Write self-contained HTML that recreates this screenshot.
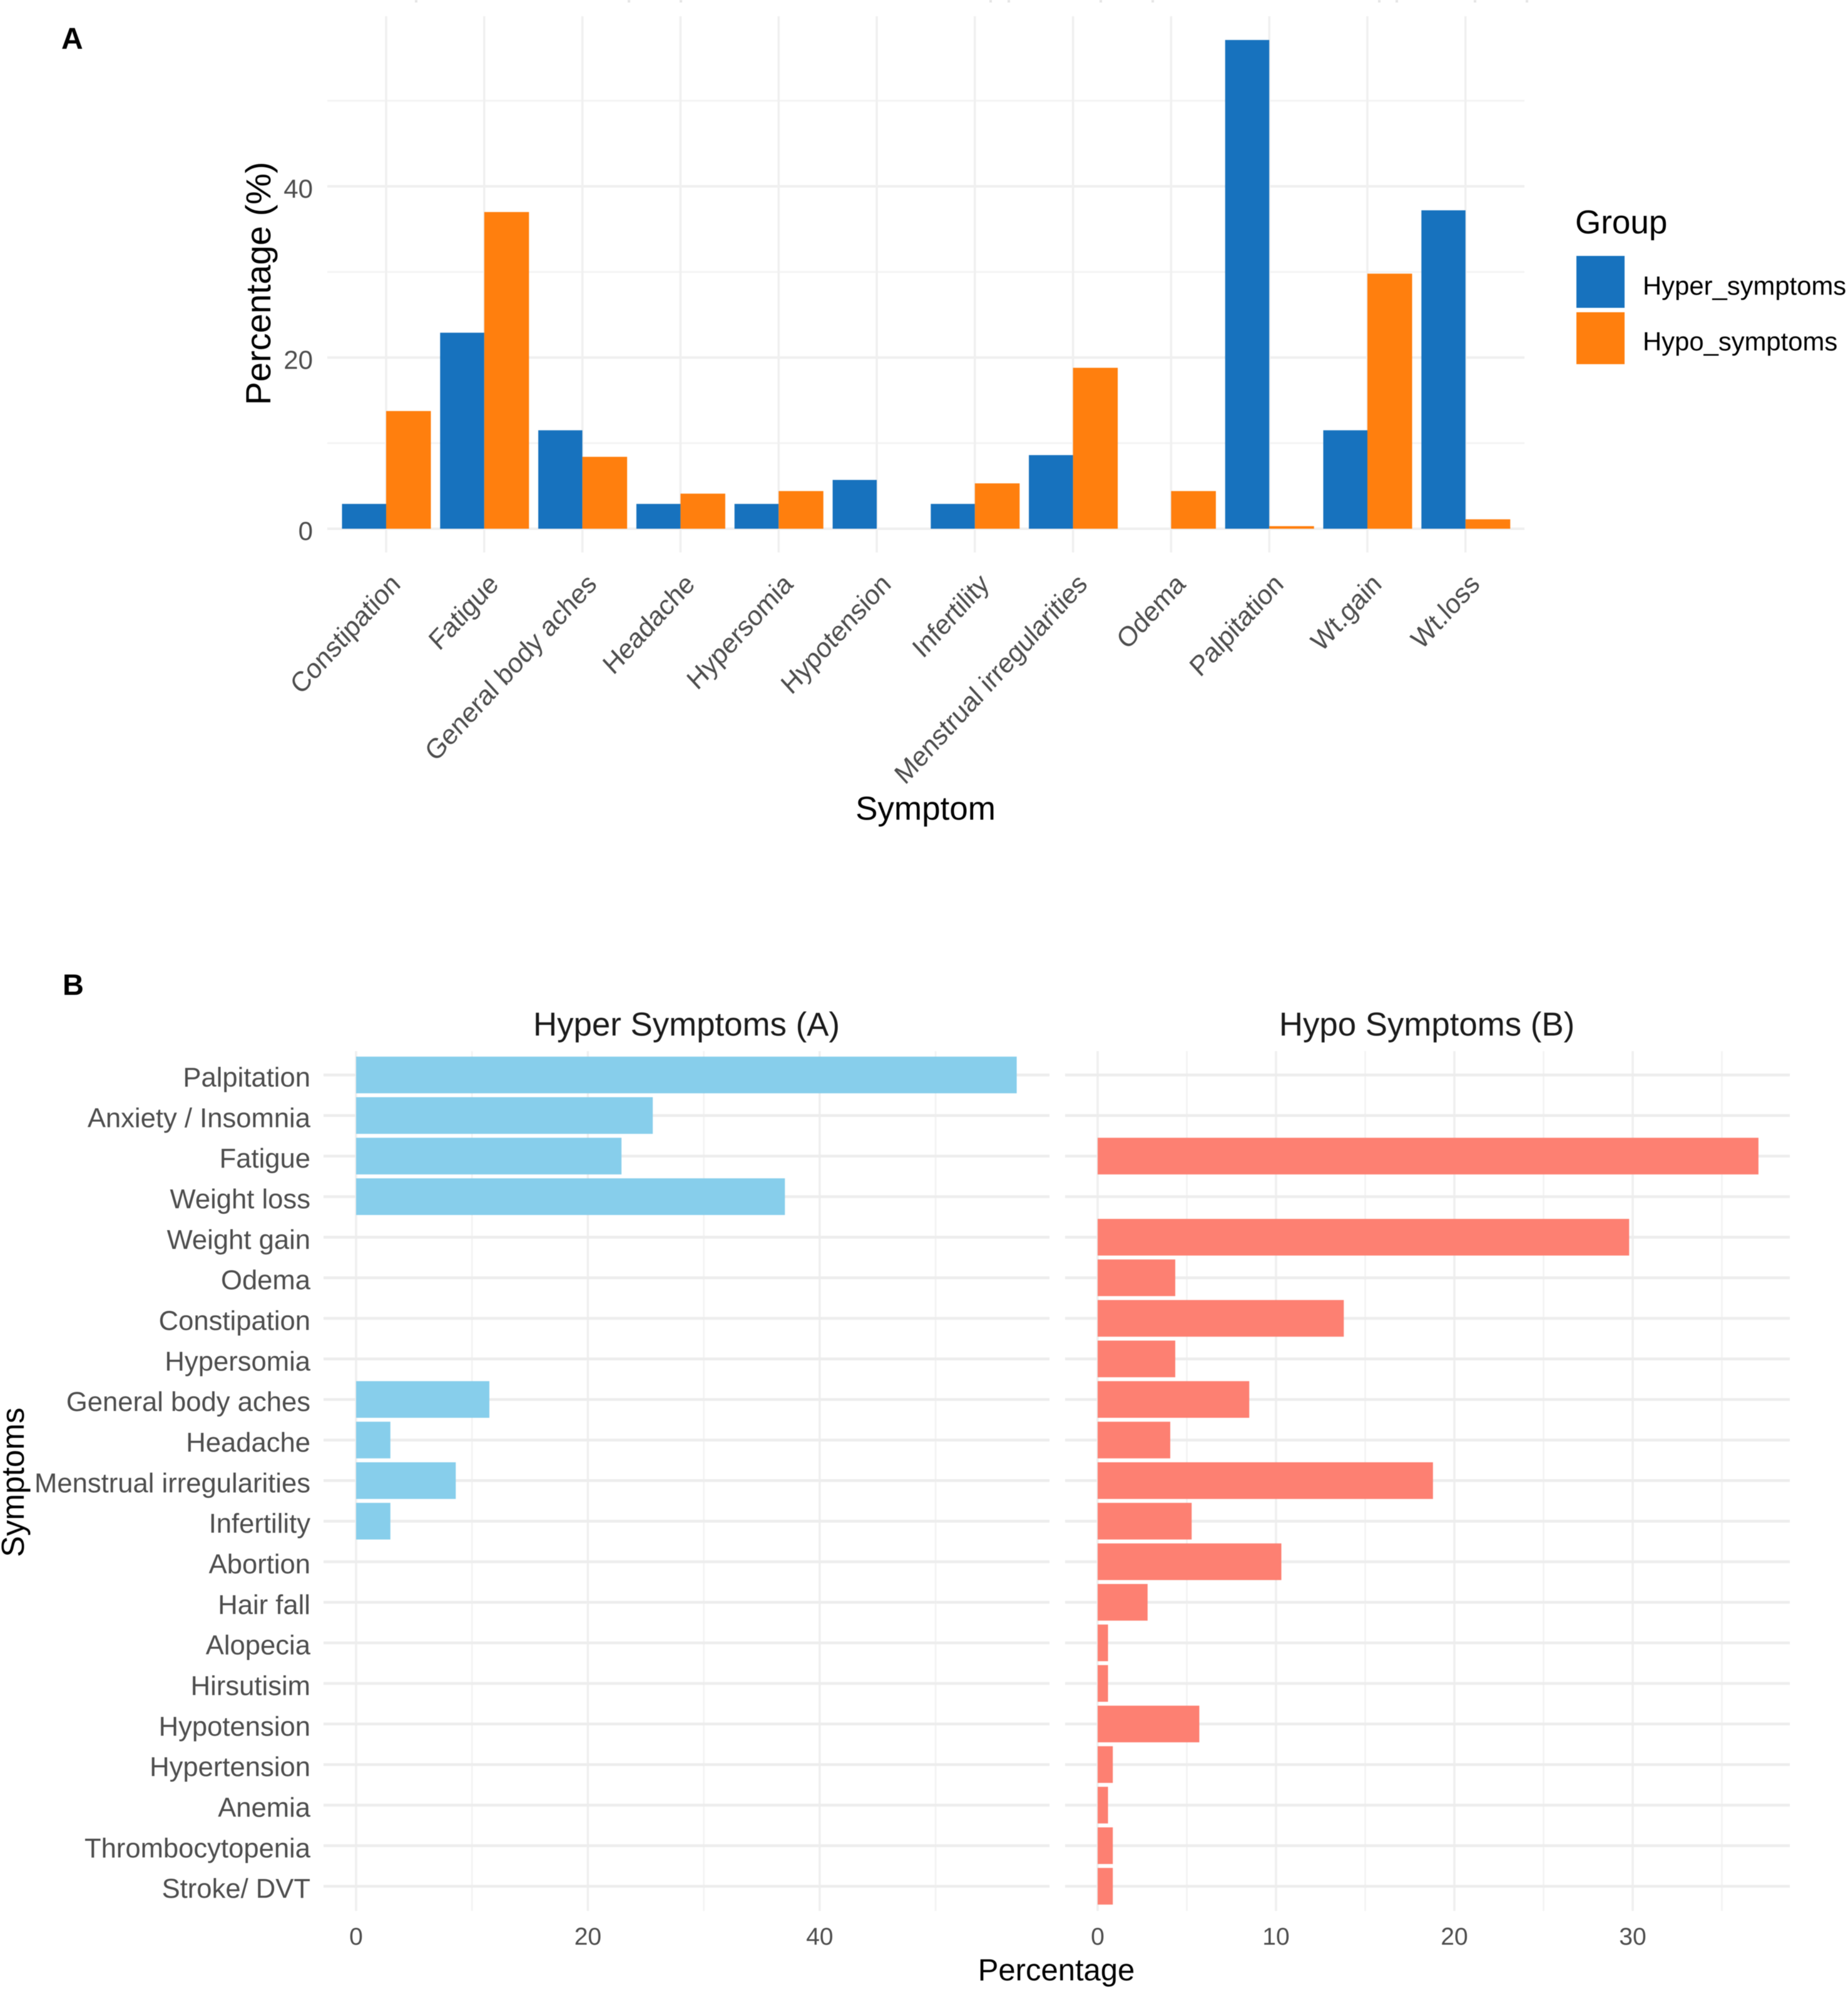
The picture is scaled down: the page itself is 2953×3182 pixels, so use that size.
<!DOCTYPE html>
<html lang="en">
<head>
<meta charset="utf-8">
<title>Hyper and hypo symptoms</title>
<style>
html,body{margin:0;padding:0;background:#fff;}
svg{display:block;filter:blur(0.6px);}
text{font-family:"Liberation Sans",Arial,sans-serif;}
</style>
</head>
<body>
<svg id="figure" xmlns="http://www.w3.org/2000/svg" width="2953" height="3182" viewBox="0 0 2953 3182">
  <rect width="2953" height="3182" fill="#ffffff"/>
  <path d="M665 0v4M1005 0v4M1088 0v4M1583 0v4M1612 0v4M1759 0v4M1842 0v4M2204 0v4M2232 0v4M2357 0v4M2440 0v4" stroke="#e4e4e4" stroke-width="4" fill="none"/>
  <g id="panelA"></g>
  <g id="panelB"></g>
  <text x="98" y="78" font-size="48" font-weight="700" fill="#000">A</text>
  <text x="100" y="1590" font-size="47" font-weight="700" fill="#000">B</text>
  <text transform="translate(432,453) rotate(-90)" text-anchor="middle" font-size="56" fill="#000">Percentage (%)</text>
  <text x="1479" y="1310" text-anchor="middle" font-size="53" fill="#000">Symptom</text>
  <text x="2517" y="373" font-size="53" fill="#000">Group</text>
  <text x="1097" y="1655" text-anchor="middle" font-size="52.8" fill="#1a1a1a">Hyper Symptoms (A)</text>
  <text x="2280" y="1655" text-anchor="middle" font-size="52.8" fill="#1a1a1a">Hypo Symptoms (B)</text>
  <text transform="translate(38,2369) rotate(-90)" text-anchor="middle" font-size="50.6" fill="#000">Symptoms</text>
  <text x="1688" y="3165" text-anchor="middle" font-size="49" fill="#000">Percentage</text>
</svg>
<script>
/* Panel A data */
var categoriesA = ["Constipation","Fatigue","General body aches","Headache","Hypersomia","Hypotension","Infertility","Menstrual irregularities","Odema","Palpitation","Wt.gain","Wt.loss"];
var hyperValuesA = [2.9,22.9,11.5,2.9,2.9,5.7,2.9,8.6,0,57.1,11.5,37.2];
var hypoValuesA = [13.75,37,8.4,4.1,4.4,0,5.3,18.8,4.4,0.3,29.8,1.1];
var majorTicksA = [0,20,40];
var minorTicksA = [10,30,50];
var legendLabels = ["Hyper_symptoms","Hypo_symptoms"];

/* Panel B data */
var categoriesB = ["Palpitation","Anxiety / Insomnia","Fatigue","Weight loss","Weight gain","Odema","Constipation","Hypersomia","General body aches","Headache","Menstrual irregularities","Infertility","Abortion","Hair fall","Alopecia","Hirsutisim","Hypotension","Hypertension","Anemia","Thrombocytopenia","Stroke/ DVT"];
var hyperValuesB = [57,25.6,22.9,37,0,0,0,0,11.5,2.96,8.6,2.96,0,0,0,0,0,0,0,0,0];
var hypoValuesB = [0,0,37.05,0,29.8,4.35,13.8,4.35,8.5,4.07,18.8,5.27,10.3,2.8,0.58,0.58,5.7,0.85,0.58,0.85,0.85];
var hyperMajorTicks = [0,20,40];
var hyperMinorTicks = [10,30,50];
var hypoMajorTicks = [0,10,20,30];
var hypoMinorTicks = [5,15,25,35];

var NS = "http://www.w3.org/2000/svg";
function mk(parent, tag, attrs, txt) {
  var el = document.createElementNS(NS, tag);
  for (var k in attrs) { el.setAttribute(k, attrs[k]); }
  if (txt !== undefined) { el.textContent = txt; }
  parent.appendChild(el);
  return el;
}

/* Axis functions */
function xA(i) { return 617 + 156.8 * i; }
function yA(v) { return 845 - 13.68 * v; }
function yB(i) { return 1718 + 64.83 * i; }
function xHyper(v) { return 569 + 18.52 * v; }
function xHypo(v) { return 1754 + 28.5 * v; }

var panelA = document.getElementById("panelA");
var panelB = document.getElementById("panelB");
var BLUE = "#1772be", ORANGE = "#ff7f0e", SKY = "#87ceeb", SALMON = "#fd8072";
var BAND_HYPER = 70.5, BAND_HYPO = 71.5, ROW = 58.6;

/* Panel A grid */
minorTicksA.forEach(function (t) {
  var el = mk(panelA, "line", {x1:523, x2:2436, y1:yA(t), y2:yA(t), stroke:"#f4f4f4", "stroke-width":3});
  
  
});
majorTicksA.forEach(function (t) {
  var el = mk(panelA, "line", {x1:523, x2:2436, y1:yA(t), y2:yA(t), stroke:"#efefef", "stroke-width":4});
  
  
  var lab = mk(panelA, "text", {x:500, y:yA(t) + 18, "text-anchor":"end", "font-size":42, fill:"#4d4d4d"}, String(t));
  
  
});
categoriesA.forEach(function (c, i) {
  var el = mk(panelA, "line", {x1:xA(i), x2:xA(i), y1:26, y2:883, stroke:"#f0f0f0", "stroke-width":3.5});
  
  
});

/* Panel A bars */
categoriesA.forEach(function (c, i) {
  var a = hyperValuesA[i], b = hypoValuesA[i];
  if (a > 0) {
    var r1 = mk(panelA, "rect", {x:xA(i) - BAND_HYPER, y:yA(a), width:BAND_HYPER, height:yA(0) - yA(a), fill:BLUE});
    
    
  }
  if (b > 0) {
    var r2 = mk(panelA, "rect", {x:xA(i), y:yA(b), width:BAND_HYPO, height:yA(0) - yA(b), fill:ORANGE});
    
    
  }
  var lx = xA(i) + 25, ly = 936;
  var t = mk(panelA, "text", {transform:"translate(" + lx + "," + ly + ") scale(1,1.09) rotate(-45)", "text-anchor":"end", "font-size":41, fill:"#4d4d4d"}, c);
  
  
});

/* Legend */
legendLabels.forEach(function (l, i) {
  var top = 409 + 90 * i;
  var s = mk(panelA, "rect", {x:2519, y:top, width:77, height:83, fill:i === 0 ? BLUE : ORANGE});
  
  
  var t = mk(panelA, "text", {x:2625, y:471 + 89 * i, "font-size":41.8, fill:"#000"}, l);
  
  
});

/* Panel B grid */
function facetGrid(name, left, right, fx, majors, minors) {
  minors.forEach(function (t) {
    var el = mk(panelB, "line", {x1:fx(t), x2:fx(t), y1:1680, y2:3054, stroke:"#f3f3f3", "stroke-width":2.6});
    
    
  });
  majors.forEach(function (t) {
    var el = mk(panelB, "line", {x1:fx(t), x2:fx(t), y1:1680, y2:3054, stroke:"#efefef", "stroke-width":3.5});
    
    
    var lab = mk(panelB, "text", {x:fx(t), y:3108, "text-anchor":"middle", "font-size":39, fill:"#4d4d4d"}, String(t));
    
    
  });
  categoriesB.forEach(function (c, i) {
    var el = mk(panelB, "line", {x1:left, x2:right, y1:yB(i), y2:yB(i), stroke:"#ededed", "stroke-width":4.5});
    
    
  });
}
facetGrid("hyper-facet", 517, 1677, xHyper, hyperMajorTicks, hyperMinorTicks);
facetGrid("hypo-facet", 1702, 2860, xHypo, hypoMajorTicks, hypoMinorTicks);

/* Panel B bars and labels */
categoriesB.forEach(function (c, i) {
  var t = mk(panelB, "text", {x:496, y:yB(i) + 18.5, "text-anchor":"end", "font-size":43.6, fill:"#4d4d4d"}, c);
  
  
  if (hyperValuesB[i] > 0) {
    var r1 = mk(panelB, "rect", {x:xHyper(0), y:yB(i) - ROW / 2, width:xHyper(hyperValuesB[i]) - xHyper(0), height:ROW, fill:SKY});
    
    
  }
  if (hypoValuesB[i] > 0) {
    var r2 = mk(panelB, "rect", {x:xHypo(0), y:yB(i) - ROW / 2, width:xHypo(hypoValuesB[i]) - xHypo(0), height:ROW, fill:SALMON});
    
    
  }
});
</script>
</body>
</html>
